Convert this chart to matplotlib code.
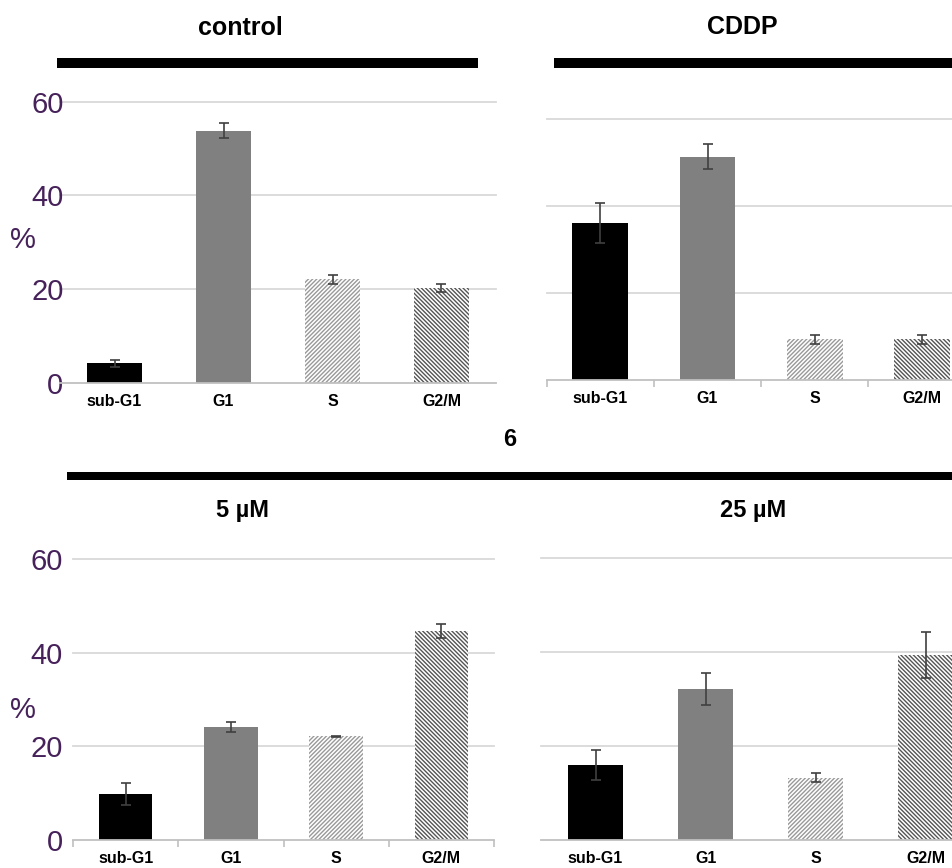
import numpy as np
import matplotlib
matplotlib.use('Agg')
import matplotlib.pyplot as plt
from matplotlib.patches import Rectangle

# data (% of cells per cell-cycle phase)
phases = ['sub-G1', 'G1', 'S', 'G2/M']
control_mean = [4.2, 53.8, 22.1, 20.2]
control_err = [0.75, 1.6, 0.9, 0.85]
cddp_mean = [36.1, 51.3, 9.3, 9.3]
cddp_err = [4.6, 2.8, 1.1, 0.95]
low_mean = [9.8, 24.1, 22.1, 44.7]      # 5 uM
low_err = [2.4, 1.05, 0.2, 1.5]
high_mean = [15.9, 32.2, 13.3, 39.4]    # 25 uM
high_err = [3.2, 3.4, 1.05, 4.85]
yticks = [0, 20, 40, 60]

W, H = 952, 868
plt.rcParams['font.family'] = ['Liberation Sans', 'DejaVu Sans']
plt.rcParams['hatch.linewidth'] = 1.0

fig = plt.figure(figsize=(W / 100, H / 100), dpi=100)


def px_axes(left, right, bottom, top):
    return fig.add_axes([left / W, (H - bottom) / H, (right - left) / W, (bottom - top) / H])


def draw_panel(ax, mean, err, width, show_y, ypad, ticks, lsize):
    x = np.arange(len(phases))
    face = ['black', '#808080', 'white', 'white']
    edge = ['black', '#808080', '#999999', '#555555']
    hatch = [None, None, '////////', '\\\\\\\\\\\\\\\\']
    for i in range(len(phases)):
        ax.bar(x[i], mean[i], width, color=face[i], edgecolor=edge[i],
               hatch=hatch[i], linewidth=0, zorder=2)
    ax.errorbar(x, mean, yerr=err, fmt='none', ecolor='#404040',
                elinewidth=1.2, capsize=3.5, capthick=1.2, zorder=3, clip_on=False)
    ax.set_xlim(-0.5, 3.5)
    ax.set_ylim(0, 60)
    for s in ['top', 'right', 'left']:
        ax.spines[s].set_visible(False)
    ax.spines['bottom'].set_color('#c0c0c0')
    ax.spines['bottom'].set_linewidth(1.3)
    ax.set_yticks(yticks)
    for y in yticks[1:]:
        ax.axhline(y, color='#d9d9d9', lw=1.3, zorder=0, clip_on=False)
    ax.set_xticks(x)
    ax.set_xticklabels(phases, fontsize=lsize, fontweight='bold')
    ax.tick_params(axis='x', length=0, pad=8)
    if ticks:
        ax.set_xticks(np.arange(-0.5, 4, 1), minor=True)
        ax.tick_params(axis='x', which='minor', length=5, color='#c0c0c0', width=1.2)
    if show_y:
        ax.tick_params(axis='y', length=0, pad=ypad, labelsize=21, labelcolor='#46215a')
    else:
        ax.tick_params(axis='y', length=0, labelleft=False)


ax1 = px_axes(60, 496, 383, 101.7)
draw_panel(ax1, control_mean, control_err, 0.51, True, -2.5, False, 11.5)
ax2 = px_axes(546.7, 975.5, 380, 118.7)
draw_panel(ax2, cddp_mean, cddp_err, 0.52, False, 0, True, 11.5)
ax3 = px_axes(73, 494, 840, 559)
draw_panel(ax3, low_mean, low_err, 0.51, True, 7.5, True, 11.5)
ax4 = px_axes(540.5, 981, 840, 558.3)
draw_panel(ax4, high_mean, high_err, 0.5, False, 0, False, 11.5)


def fig_text(x, y, s, **kw):
    fig.text(x / W, 1 - y / H, s, ha='center', va='center', **kw)


def black_bar(x0, x1, y0, y1):
    fig.add_artist(Rectangle((x0 / W, 1 - y1 / H), (x1 - x0) / W, (y1 - y0) / H,
                             transform=fig.transFigure, color='black', lw=0))


fig_text(240, 28, 'control', fontsize=18, fontweight='bold')
fig_text(742, 27, 'CDDP', fontsize=18, fontweight='bold')
fig_text(242, 511, '5 µM', fontsize=17, fontweight='bold')
fig_text(753, 511, '25 µM', fontsize=17, fontweight='bold')
fig_text(510, 440, '6', fontsize=17, fontweight='bold')
fig_text(23, 240, '%', fontsize=21, color='#46215a')
fig_text(23, 710, '%', fontsize=21, color='#46215a')

black_bar(57, 478, 58, 68)
black_bar(554, 952, 58, 68)
black_bar(67, 952, 472, 480)

fig.savefig('out.png', dpi=100, facecolor='white')
